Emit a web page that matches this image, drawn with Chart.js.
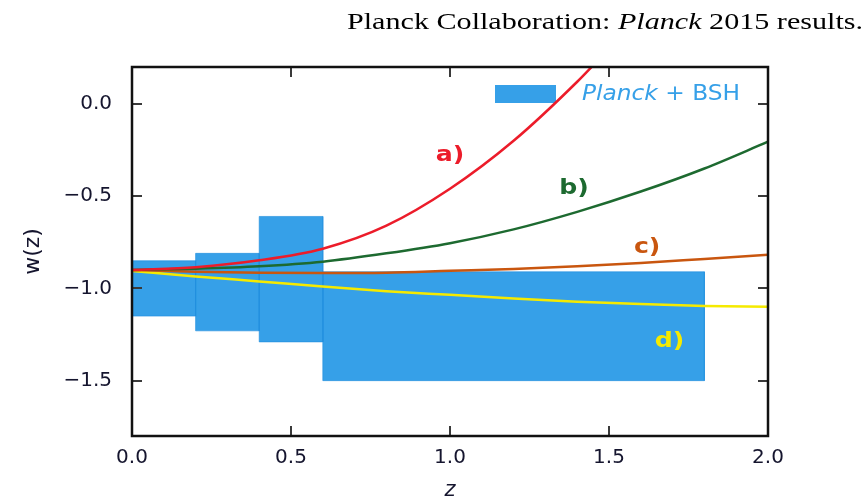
<!DOCTYPE html>
<html>
<head>
<meta charset="utf-8">
<script src="https://cdn.jsdelivr.net/npm/chart.js@4.4.1/dist/chart.umd.min.js"></script>
<style>
  html, body { margin: 0; padding: 0; background: #fff; }
  #wrap { width: 862px; height: 496px; }
</style>
</head>
<body>
<div id="wrap"><canvas id="chart" width="862" height="496"></canvas></div>
<script>
// model curves w(z)
const zModel  = [0, 0.2, 0.4, 0.6, 0.8, 1.0, 1.2, 1.4, 1.6, 1.8, 2.0];
const zModelA = [0, 0.2, 0.4, 0.6, 0.8, 1.0, 1.2, 1.4, 1.5];
const wA = [-0.90, -0.885, -0.848, -0.785, -0.66, -0.46, -0.20, 0.12, 0.30];
const wB = [-0.90, -0.893, -0.88, -0.855, -0.81, -0.755, -0.68, -0.585, -0.475, -0.35, -0.205];
const wC = [-0.90, -0.91, -0.915, -0.917, -0.915, -0.905, -0.895, -0.88, -0.862, -0.84, -0.818];
const wD = [-0.905, -0.935, -0.962, -0.99, -1.015, -1.035, -1.055, -1.072, -1.085, -1.095, -1.10];

// Planck+BSH binned constraints
const binEdges = [0, 0.2, 0.4, 0.6, 1.8];
const binUpper = [-0.85, -0.81, -0.61, -0.91];
const binLower = [-1.15, -1.23, -1.29, -1.50];

const xTicks = [0, 0.5, 1.0, 1.5, 2.0];
const yTicks = [-1.5, -1.0, -0.5, 0.0];
const curveNames = ['a)', 'b)', 'c)', 'd)'];

const SANS = '"DejaVu Sans", sans-serif';
const SERIF = '"Liberation Serif", "Times New Roman", serif';
const INK = '#15152e';
const BLUE = '#36a0e8';

const curveStyle = [
  { color: '#ec1c2a', at: [1.00, -0.28] },
  { color: '#1d6a30', at: [1.39, -0.46] },
  { color: '#c9560f', at: [1.62, -0.78] },
  { color: '#f5ea00', at: [1.69, -1.29] }
];

const pts = (xs, ys) => xs.map((x, i) => ({ x: x, y: ys[i] }));

const datasets = [];
[[zModelA, wA], [zModel, wB], [zModel, wC], [zModel, wD]].forEach(([xs, ys], i) => {
  datasets.push({
    data: pts(xs, ys),
    borderColor: curveStyle[i].color,
    borderWidth: 2.5,
    pointRadius: 0,
    fill: false,
    cubicInterpolationMode: 'monotone',
    order: 0
  });
});
for (let i = 0; i < binUpper.length; i++) {
  const x0 = binEdges[i], x1 = binEdges[i + 1];
  datasets.push({
    data: [
      { x: x0, y: binUpper[i] }, { x: x1, y: binUpper[i] },
      { x: x1, y: binLower[i] }, { x: x0, y: binLower[i] },
      { x: x0, y: binUpper[i] }
    ],
    backgroundColor: BLUE,
    borderColor: 'rgba(30,140,222,0.6)',
    borderWidth: 1,
    pointRadius: 0,
    tension: 0,
    fill: 'shape',
    order: 1
  });
}

// text made of several font runs, optionally stretched to a width
function drawRuns(ctx, runs, x, y, opt) {
  let total = 0;
  runs.forEach(r => { ctx.font = r.font; r.w = ctx.measureText(r.text).width; total += r.w; });
  const sx = opt.width ? opt.width / total : (opt.sx || 1);
  ctx.save();
  ctx.translate(x, y);
  ctx.scale(sx, 1);
  ctx.textBaseline = opt.baseline || 'middle';
  ctx.textAlign = 'left';
  let cx = opt.align === 'center' ? -total / 2 : 0;
  runs.forEach(r => {
    ctx.font = r.font;
    ctx.fillStyle = r.color;
    ctx.fillText(r.text, cx, 0);
    cx += r.w;
  });
  ctx.restore();
}

const decorations = {
  id: 'decorations',
  beforeDatasetsDraw(chart) {
    const { ctx, chartArea: ca } = chart;
    // legend entry
    ctx.save();
    ctx.fillStyle = BLUE;
    ctx.fillRect(ca.right - 273, ca.top + 18, 61, 18);
    ctx.restore();
    drawRuns(ctx, [
      { text: 'Planck', font: 'italic 21px ' + SANS, color: BLUE },
      { text: ' + ', font: '21px ' + SANS, color: BLUE },
      { text: 'BSH', font: '21px ' + SANS, color: BLUE }
    ], ca.right - 186, ca.top + 28, { width: 158 });
  },
  afterDatasetsDraw(chart) {
    const { ctx, chartArea: ca, scales: { x, y } } = chart;
    // curve tags
    curveStyle.forEach((c, i) => {
      drawRuns(ctx, [{ text: curveNames[i], font: 'bold 21px ' + SANS, color: c.color }],
        x.getPixelForValue(c.at[0]), y.getPixelForValue(c.at[1]), { sx: 1.2, align: 'center' });
    });
    // inward tick marks on all four sides
    ctx.save();
    ctx.strokeStyle = '#3a3a3a';
    ctx.lineWidth = 2;
    ctx.beginPath();
    yTicks.forEach(v => {
      const py = Math.round(y.getPixelForValue(v));
      ctx.moveTo(ca.left, py); ctx.lineTo(ca.left + 10, py);
      ctx.moveTo(ca.right, py); ctx.lineTo(ca.right - 10, py);
    });
    xTicks.forEach(v => {
      const px = Math.round(x.getPixelForValue(v));
      ctx.moveTo(px, ca.bottom); ctx.lineTo(px, ca.bottom - 10);
      ctx.moveTo(px, ca.top); ctx.lineTo(px, ca.top + 10);
    });
    ctx.stroke();
    // frame
    ctx.strokeStyle = '#111';
    ctx.lineWidth = 2.5;
    ctx.strokeRect(ca.left, ca.top, ca.right - ca.left, ca.bottom - ca.top);
    ctx.restore();
  },
  afterDraw(chart) {
    const { ctx } = chart;
    drawRuns(ctx, [
      { text: 'Planck Collaboration: ', font: '24px ' + SERIF, color: '#000' },
      { text: 'Planck', font: 'italic 24px ' + SERIF, color: '#000' },
      { text: ' 2015 results.', font: '24px ' + SERIF, color: '#000' }
    ], 347, 29, { width: 516, baseline: 'alphabetic' });
  }
};

new Chart(document.getElementById('chart'), {
  type: 'line',
  data: { datasets: datasets },
  options: {
    responsive: false,
    animation: false,
    devicePixelRatio: 1,
    layout: { padding: { top: 67, right: 94, left: 0, bottom: 0 } },
    plugins: { legend: { display: false }, tooltip: { enabled: false }, title: { display: false } },
    scales: {
      x: {
        type: 'linear',
        min: 0,
        max: 2,
        afterBuildTicks: s => { s.ticks = xTicks.map(v => ({ value: v })); },
        afterFit: s => { s.height = 60; },
        grid: { display: false, drawTicks: false },
        border: { display: false },
        ticks: {
          autoSkip: false, maxRotation: 0, padding: 10, color: INK,
          font: { family: SANS, size: 20 },
          callback: v => v.toFixed(1)
        },
        title: {
          display: true, text: 'z', color: INK, padding: 0,
          font: { family: SANS, size: 21, style: 'italic', lineHeight: 0.5 }
        }
      },
      y: {
        type: 'linear',
        min: -1.8,
        max: 0.2,
        afterBuildTicks: s => { s.ticks = yTicks.map(v => ({ value: v })); },
        afterFit: s => { s.width = 132; },
        grid: { display: false, drawTicks: false },
        border: { display: false },
        ticks: {
          autoSkip: false, padding: 20, color: INK,
          font: { family: SANS, size: 20 },
          callback: v => (v < 0 ? '\u2212' : '') + Math.abs(v).toFixed(1)
        },
        title: {
          display: true, text: 'w(z)', color: INK,
          padding: { top: 20, bottom: 0 },
          font: { family: SANS, size: 22 }
        }
      }
    }
  },
  plugins: [decorations]
});
</script>
</body>
</html>
